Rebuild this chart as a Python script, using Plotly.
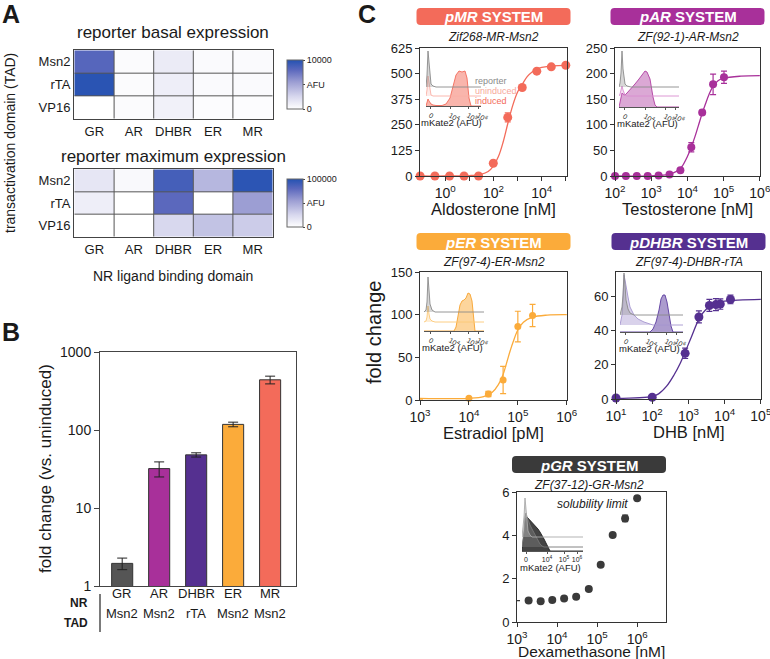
import plotly.graph_objects as go

W, H = 770, 659
FONT = "Liberation Sans, Arial, Helvetica, sans-serif"
INK = "#1a1a1a"

# ---------------- data ----------------
nr_domains = ["GR", "AR", "DHBR", "ER", "MR"]
tad_domains = ["Msn2", "rTA", "VP16"]
basal_afu = [[8200, 250, 1300, 300, 300],
             [9800, 250, 1100, 300, 300],
             [0, 250, 900, 200, 200]]
max_afu = [[16000, 4000, 88000, 42000, 97000],
           [11000, 0, 80000, 0, 55000],
           [0, 0, 25000, 36000, 31000]]

fc_nr = ["GR", "AR", "DHBR", "ER", "MR"]
fc_tad = ["Msn2", "Msn2", "rTA", "Msn2", "Msn2"]
fc_mean = [1.95, 32, 48, 118, 440]
fc_err = [0.33, 7, 3, 8, 50]
fc_colors = ["#555555", "#a8309a", "#553090", "#fbab3a", "#f36b5a"]

aldo_nM = [0.09, 0.37, 1.5, 6, 24, 98, 390, 1560, 6250, 25000, 100000]
mr_fold = [0, 0, 0, 0, 0, 62, 286, 432, 512, 533, 541]
mr_err = [0, 0, 0, 0, 0, 4, 22, 10, 8, 6, 5]
aldo_fit_nM = [0.09, 1, 10, 30, 60, 100, 160, 250, 400, 630, 1000, 1600, 2500, 4000, 6300, 10000, 30000, 100000]
mr_fit = [0, 0, 2, 8, 22, 50, 95, 165, 260, 345, 410, 450, 485, 508, 522, 530, 538, 540]

testo_nM = [100, 200, 400, 800, 1600, 3200, 6400, 12800, 25600, 51200, 102400]
ar_fold = [0, 0, 0, 0, 1, 3, 11, 56, 124, 179, 193]
ar_err = [0, 0, 0, 0, 0, 1, 2, 9, 4, 20, 12]
testo_fit_nM = [100, 1000, 3000, 5000, 7000, 10000, 13000, 16000, 20000, 25000, 32000, 40000, 50000, 70000, 100000, 300000, 1000000]
ar_fit = [0, 0.3, 3, 9, 18, 38, 58, 76, 98, 120, 142, 160, 174, 186, 191, 195, 196]

estr_pM = [1000, 10000, 25000, 50000, 100000, 200000]
er_fold = [1, 2, 7, 23.5, 86, 99]
er_err = [0, 0, 3, 16, 18, 13]
estr_fit_pM = [1000, 10000, 20000, 30000, 40000, 50000, 60000, 70000, 80000, 100000, 130000, 200000, 400000, 1000000]
er_fit = [2, 2, 4, 9, 18, 30, 45, 58, 68, 82, 91, 97, 99.5, 100]

dhb_nM = [10, 100, 813, 1950, 3800, 5750, 7600, 14500]
dhbr_fold = [0.6, 1, 26.6, 47.8, 54.5, 55, 55.3, 58]
dhbr_err = [0.8, 0.8, 3, 3.5, 3.5, 3.5, 3, 2.5]
dhb_fit_nM = [10, 100, 150, 250, 400, 600, 800, 1200, 2000, 3000, 5000, 10000, 100000]
dhbr_fit = [0.3, 1.5, 3, 7.5, 14, 21, 27, 36, 47, 52, 55.5, 57, 58]

dex_nM = [1000, 1950, 3900, 7600, 15000, 30000, 62000, 123000, 245000, 500000, 1000000]
gr_fold = [0.99, 0.99, 0.96, 1.02, 1.09, 1.17, 1.52, 2.64, 4.02, 4.78, 5.71]
gr_err = [0, 0, 0, 0, 0, 0, 0.04, 0.05, 0.06, 0.15, 0.05]

# inset flow histograms (display channel units, heights in counts scaled)
mr_hist_x = [0, 1, 2, 3, 4, 5, 7, 10, 16, 20, 24, 27, 30, 33, 36, 39, 41, 43, 45, 55]
mr_hist_rep = [0, 12, 36, 22, 8, 3, 1, 0, 0, 0, 0, 0, 0, 0, 0, 0, 0, 0, 0, 0]
mr_hist_unind = [0, 6, 20, 12, 4, 1, 0, 0, 0, 0, 0, 0, 0, 0, 0, 0, 0, 0, 0, 0]
mr_hist_ind = [0, 3, 7, 5, 3, 2, 1, 0.5, 0.5, 2, 8, 20, 31, 35, 34, 35, 28, 8, 0, 0]

ar_hist_x = [0, 1, 2, 3, 4, 5, 6, 8, 12, 16, 20, 24, 26, 28, 31, 34, 36, 38, 60]
ar_hist_rep = [0, 4, 14, 36, 18, 7, 3, 1, 0, 0, 0, 0, 0, 0, 0, 0, 0, 0, 0]
ar_hist_unind = [0, 2, 6, 10, 6, 3, 1, 0, 0, 0, 0, 0, 0, 0, 0, 0, 0, 0, 0]
ar_hist_ind = [0, 6, 11, 14, 13, 12, 12, 14, 18, 23, 28, 33, 36, 35, 28, 10, 2, 0, 0]

er_hist_x = [0, 2, 3, 4, 5, 6, 8, 11, 30, 32, 34, 36, 38, 40, 42, 44, 46, 48, 50, 51, 60]
er_hist_rep = [0, 2, 10, 35, 22, 8, 2, 0, 0, 0, 0, 0, 0, 0, 0, 0, 0, 0, 0, 0, 0]
er_hist_unind = [0, 1, 5, 16, 8, 3, 1, 0, 0, 0, 0, 0, 0, 0, 0, 0, 0, 0, 0, 0, 0]
er_hist_ind = [0, 0, 0, 0, 0, 0, 0, 0, 0, 4, 14, 26, 30, 31, 33, 38, 37, 30, 10, 0, 0]

dhbr_hist_x = [0, 2, 3, 4, 5, 6, 8, 10, 14, 18, 24, 30, 33, 36, 39, 41, 43, 45, 47, 49, 51, 53, 63]
dhbr_hist_rep = [0, 8, 20, 42, 30, 15, 6, 2, 0, 0, 0, 0, 0, 0, 0, 0, 0, 0, 0, 0, 0, 0, 0]
dhbr_hist_unind = [0, 10, 25, 50, 45, 38, 28, 18, 10, 6, 3, 1, 0, 0, 0, 0, 0, 0, 0, 0, 0, 0, 0]
dhbr_hist_ind = [0, 0, 0, 0, 0, 0, 0, 0, 0, 0, 0, 0, 3, 10, 22, 33, 37, 37, 30, 18, 6, 0, 0]

gr_hist_x = [0, 2, 3, 4, 5, 6, 8, 10, 12, 14, 16, 18, 20, 22, 24, 26, 28, 61]
gr_hist_rep = [0, 20, 39, 25, 12, 6, 2, 0, 0, 0, 0, 0, 0, 0, 0, 0, 0, 0]
gr_hist_unind = [0, 15, 30, 34, 30, 27, 22, 18, 14, 10, 6, 3, 1, 0, 0, 0, 0, 0]
gr_hist_ind = [0, 18, 28, 33, 34, 33, 31, 29, 27, 25, 22, 19, 16, 12, 8, 4, 0, 0]

inset_ticktext = ["0", "10<sup>4</sup>", "10<sup>5</sup>", "10<sup>6</sup>"]


# ---------------- helpers ----------------
def X(x):
    return x / W


def Y(y):
    return 1 - y / H


def xd(a, b):
    return [X(a), X(b)]


def yd(top, bot):
    return [Y(bot), Y(top)]


def ax_name(kind, i):
    return kind if i == 1 else f"{kind}{i}"


def ref(kind, i):
    return kind if i == 1 else f"{kind}{i}"


def rounded_path(x0, y0, x1, y1, r):
    rx, ry = r / W, r / H
    a, b, c, d = X(x0), Y(y0), X(x1), Y(y1)
    return (f"M {a+rx},{b} L {c-rx},{b} Q {c},{b} {c},{b-ry} L {c},{d+ry} Q {c},{d} {c-rx},{d} "
            f"L {a+rx},{d} Q {a},{d} {a},{d+ry} L {a},{b-ry} Q {a},{b} {a+rx},{b} Z")


fig = go.Figure()
layout = {}
shapes = []
ann = []


def text(x, y, s, size=13, color=INK, xanchor="center", yanchor="middle", angle=0, **kw):
    ann.append(dict(x=X(x), y=Y(y), xref="paper", yref="paper", text=s, showarrow=False,
                    font=dict(size=size, color=color, family=FONT), xanchor=xanchor,
                    yanchor=yanchor, textangle=angle, **kw))


# ---------------- panel A ----------------
blues = [[0, "#ffffff"], [0.25, "#d8d8ee"], [0.55, "#9c9ed3"], [0.8, "#5b68bd"], [1, "#2452b2"]]
hm_specs = [(1, basal_afu, 50, 119, "coloraxis", 10000, "10000"),
            (2, max_afu, 169, 237, "coloraxis2", 100000, "100000")]
for i, z, top, bot, cax, zmax, toplab in hm_specs:
    fig.add_trace(go.Heatmap(z=z, x=nr_domains, y=tad_domains, coloraxis=cax,
                             xaxis=ref("x", i), yaxis=ref("y", i)))
    layout[ax_name("xaxis", i)] = dict(domain=xd(74, 273), anchor=ref("y", i), showline=True, mirror=True,
                                       linecolor="#444", linewidth=1, ticks="", showgrid=False,
                                       tickfont=dict(size=13, color=INK), automargin=False)
    layout[ax_name("yaxis", i)] = dict(domain=yd(top, bot), anchor=ref("x", i), showline=True, mirror=True,
                                       linecolor="#444", linewidth=1, ticks="", showgrid=False,
                                       autorange="reversed", tickfont=dict(size=13, color=INK),
                                       automargin=False)
    layout[cax] = dict(colorscale=blues, cmin=0, cmax=zmax,
                       colorbar=dict(x=X(277), xanchor="left", y=Y(top), yanchor="top",
                                     len=bot - top, lenmode="pixels", thickness=16,
                                     outlinewidth=1, outlinecolor="#666",
                                     tickvals=[0, zmax / 2, zmax], ticktext=["0", "AFU", toplab],
                                     ticks="outside", ticklen=2, tickfont=dict(size=9, color=INK)))
    for k in range(1, len(nr_domains)):
        shapes.append(dict(type="line", xref=ref("x", i), yref=ref("y", i), x0=k - 0.5, x1=k - 0.5,
                           y0=-0.5, y1=len(tad_domains) - 0.5, line=dict(color="#555", width=1)))
    for k in range(1, len(tad_domains)):
        shapes.append(dict(type="line", xref=ref("x", i), yref=ref("y", i), x0=-0.5,
                           x1=len(nr_domains) - 0.5, y0=k - 0.5, y1=k - 0.5,
                           line=dict(color="#555", width=1)))

text(11, 14, "<b>A</b>", size=25)
text(173, 33, "reporter basal expression", size=17)
text(173, 157, "reporter maximum expression", size=17)
text(173, 276, "NR ligand binding domain", size=14)
text(10, 143, "transactivation domain (TAD)", size=14, angle=-90)

# ---------------- panel B ----------------
fig.add_trace(go.Bar(x=fc_nr, y=fc_mean, marker=dict(color=fc_colors, line=dict(color="#333", width=1)),
                     width=0.57, error_y=dict(type="data", array=fc_err, color="#222", thickness=1, width=5),
                     xaxis="x3", yaxis="y3"))
layout["xaxis3"] = dict(domain=xd(100, 296), anchor="y3", range=[-0.6, 4.7], showline=True, mirror=True,
                        linecolor="#444", ticks="", showticklabels=False, showgrid=False, automargin=False)
layout["yaxis3"] = dict(domain=yd(352, 586), anchor="x3", type="log", range=[0, 3], showline=True, mirror=True,
                        linecolor="#444", ticks="outside", ticklen=5, tickcolor="#444",
                        tickvals=[1, 10, 100, 1000], ticktext=["1", "10", "100", "1000"],
                        tickfont=dict(size=14, color=INK), showgrid=False, zeroline=False, automargin=False)
for nr, tad in zip(fc_nr, fc_tad):
    ann.append(dict(x=nr, y=Y(603), xref="x3", yref="paper", text=nr, showarrow=False,
                    font=dict(size=13, color=INK, family=FONT)))
    ann.append(dict(x=nr, y=Y(623), xref="x3", yref="paper", text=tad, showarrow=False,
                    font=dict(size=13, color=INK, family=FONT)))
text(90, 603, "<b>NR</b>", size=12, xanchor="right")
text(90, 623, "<b>TAD</b>", size=12, xanchor="right")
shapes.append(dict(type="line", xref="paper", yref="paper", x0=X(100), x1=X(100), y0=Y(594), y1=Y(632),
                   line=dict(color="#222", width=1.2)))
text(11, 332, "<b>B</b>", size=25)
text(45, 469, "fold change (vs. uninduced)", size=17, angle=-90)

# ---------------- panel C ----------------
systems = [
    dict(i=4, name="pMR", color="#f36b5a", sub="Zif268-MR-Msn2", box=(420, 567, 48, 176),
         xr=[-1.05, 5.05], yr=[0, 625], yt=[0, 125, 250, 375, 500, 625], xe=[0, 1, 2, 3, 4, 5],
         xl=[0, 2, 4], xt="Aldosterone [nM]", x=aldo_nM, y=mr_fold, e=mr_err,
         fx=aldo_fit_nM, fy=mr_fit, ms=9),
    dict(i=5, name="pAR", color="#a8309a", sub="ZF(92-1)-AR-Msn2", box=(615, 760, 48, 176),
         xr=[2, 6.005], yr=[0, 250], yt=[0, 50, 100, 150, 200, 250], xe=[2, 3, 4, 5, 6],
         xl=[2, 3, 4, 5, 6], xt="Testosterone [nM]", x=testo_nM, y=ar_fold, e=ar_err,
         fx=testo_fit_nM, fy=ar_fit, ms=8),
    dict(i=6, name="pER", color="#fbab3a", sub="ZF(97-4)-ER-Msn2", box=(420, 567, 272, 400),
         xr=[3, 6.005], yr=[0, 150], yt=[0, 50, 100, 150], xe=[3, 4, 5, 6],
         xl=[3, 4, 5, 6], xt="Estradiol [pM]", x=estr_pM, y=er_fold, e=er_err,
         fx=estr_fit_pM, fy=er_fit, ms=7),
    dict(i=7, name="pDHBR", color="#553090", sub="ZF(97-4)-DHBR-rTA", box=(616, 761, 272, 399),
         xr=[1, 5.005], yr=[0, 74], yt=[0, 20, 40, 60], xe=[1, 2, 3, 4, 5],
         xl=[1, 2, 3, 4, 5], xt="DHB [nM]", x=dhb_nM, y=dhbr_fold, e=dhbr_err,
         fx=dhb_fit_nM, fy=dhbr_fit, ms=9),
    dict(i=8, name="pGR", color="#3a3a3a", sub="ZF(37-12)-GR-Msn2", box=(517, 666, 492, 622),
         xr=[3, 6.72], yr=[0, 6], yt=[0, 2, 4, 6], xe=[3, 4, 5, 6],
         xl=[3, 4, 5, 6], xt="Dexamethasone [nM]", x=dex_nM, y=gr_fold, e=gr_err,
         fx=None, fy=None, ms=8),
]

for s in systems:
    i = s["i"]
    l, r, t, b = s["box"]
    xa, ya = f"x{i}", f"y{i}"
    if s["fx"] is not None:
        fig.add_trace(go.Scatter(x=s["fx"], y=s["fy"], mode="lines", line=dict(color=s["color"], width=1.3,
                                 shape="spline"), xaxis=xa, yaxis=ya, cliponaxis=True))
    fig.add_trace(go.Scatter(x=s["x"], y=s["y"], mode="markers",
                             marker=dict(color=s["color"], size=s["ms"]),
                             error_y=dict(type="data", array=s["e"], color=s["color"], thickness=1.2, width=3),
                             xaxis=xa, yaxis=ya, cliponaxis=False))
    layout[f"xaxis{i}"] = dict(domain=xd(l, r), anchor=ya, type="log", range=s["xr"], showline=True, mirror=True,
                               linecolor="#333", ticks="outside", ticklen=4, tickcolor="#333",
                               tickvals=[10 ** k for k in s["xe"]],
                               ticktext=[f"10<sup>{k}</sup>" if k in s["xl"] else "" for k in s["xe"]],
                               tickfont=dict(size=14, color=INK), showgrid=False, zeroline=False,
                               ticklabeloverflow="allow", automargin=False)
    layout[f"yaxis{i}"] = dict(domain=yd(t, b), anchor=xa, range=s["yr"], showline=True, mirror=True,
                               linecolor="#333", ticks="outside", ticklen=4, tickcolor="#333",
                               tickvals=s["yt"], tickfont=dict(size=13, color=INK),
                               showgrid=False, zeroline=False, automargin=False)
    # header pill
    cx = (l + r) / 2 if i != 8 else 589
    hw = 77
    ht, hb = (8, 25) if t < 100 else ((233, 250) if t < 400 else (456, 473))
    shapes.append(dict(type="path", xref="paper", yref="paper", path=rounded_path(cx - hw, ht, cx + hw, hb, 4),
                       fillcolor=s["color"], line=dict(width=0)))
    text(cx, (ht + hb) / 2 + 0.5, f"<b><i>{s['name']}</i> SYSTEM</b>", size=15, color="white")
    text(cx, ht + 29, f"<i>{s['sub']}</i>", size=12)
    text((l + r) / 2, b + 33 if i != 8 else b + 29.5, s["xt"], size=16.5 if i != 8 else 15.5)

text(367, 14, "<b>C</b>", size=25)
text(374, 333, "fold change", size=20, angle=-90)
text(592, 504, "<i>solubility limit</i>", size=12)

# ---------------- insets ----------------
insets = [
    dict(i=9, box=(426, 481, 50, 106), tv=[4, 24, 42, 52], hx=mr_hist_x,
         layers=[(mr_hist_ind, 0, "#f36b5a", "rgba(243,107,90,0.5)"),
                 (mr_hist_unind, 10, "#f9b0a6", "rgba(249,176,166,0.25)"),
                 (mr_hist_rep, 19, "#8a8a8a", "rgba(140,140,140,0.35)")]),
    dict(i=10, box=(619, 679, 50, 107), tv=[5, 26, 46, 56], hx=ar_hist_x,
         layers=[(ar_hist_ind, 0, "#b03da2", "rgba(176,61,162,0.45)"),
                 (ar_hist_unind, 11, "#d98ccf", "rgba(217,140,207,0.3)"),
                 (ar_hist_rep, 20, "#8a8a8a", "rgba(140,140,140,0.35)")]),
    dict(i=11, box=(424, 484, 273, 331), tv=[6, 26, 44, 54], hx=er_hist_x,
         layers=[(er_hist_ind, 0, "#f7a32e", "rgba(251,171,58,0.5)"),
                 (er_hist_unind, 9, "#fcc877", "rgba(252,200,119,0.3)"),
                 (er_hist_rep, 19, "#8a8a8a", "rgba(140,140,140,0.35)")]),
    dict(i=12, box=(620, 683, 270, 332), tv=[5, 27, 46, 56], hx=dhbr_hist_x,
         layers=[(dhbr_hist_ind, 0, "#5a3a9e", "rgba(90,58,158,0.5)"),
                 (dhbr_hist_unind, 7, "#a595cf", "rgba(130,105,190,0.3)"),
                 (dhbr_hist_rep, 17, "#8a8a8a", "rgba(140,140,140,0.35)")]),
    dict(i=13, box=(522, 583, 494, 551), tv=[4, 25, 42, 55], hx=gr_hist_x,
         layers=[(gr_hist_ind, 0, "#222222", "rgba(35,35,35,0.85)"),
                 (gr_hist_unind, 4, "#777777", "rgba(110,110,110,0.6)"),
                 (gr_hist_rep, 14, "#aaaaaa", "rgba(170,170,170,0.5)")]),
]
for s in insets:
    i = s["i"]
    l, r, t, b = s["box"]
    xa, ya = f"x{i}", f"y{i}"
    for h, base, lc, fc in s["layers"]:
        fig.add_trace(go.Scatter(x=s["hx"], y=[base + v for v in h], mode="lines", fill="toself",
                                 fillcolor=fc, line=dict(color=lc, width=0.9), xaxis=xa, yaxis=ya))
    layout[f"xaxis{i}"] = dict(domain=xd(l, r), anchor=ya, range=[0, r - l], showline=True, linecolor="#555",
                               linewidth=0.8, ticks="outside", ticklen=2, tickcolor="#555",
                               tickvals=s["tv"], ticktext=inset_ticktext, tickfont=dict(size=7, color=INK),
                               showgrid=False, zeroline=False, automargin=False)
    layout[f"yaxis{i}"] = dict(domain=yd(t, b), anchor=xa, range=[0, b - t], visible=False, automargin=False)
    text((l + r) / 2 - 2, b + 16, "mKate2 (AFU)", size=9.5)

text(473, 81, "reporter", size=9, color="#8a8a8a", xanchor="left")
text(473, 91, "uninduced", size=9, color="#f7a79c", xanchor="left")
text(473, 101, "induced", size=9, color="#f36b5a", xanchor="left")

fig.update_layout(width=W, height=H, margin=dict(l=0, r=0, t=0, b=0, autoexpand=False), showlegend=False,
                  paper_bgcolor="white", plot_bgcolor="rgba(0,0,0,0)",
                  font=dict(family=FONT, color=INK), shapes=shapes, annotations=ann, **layout)
fig.write_html("out.html", config={"displayModeBar": False},
               post_script="document.body.style.margin='0px';document.body.style.overflow='hidden';")
